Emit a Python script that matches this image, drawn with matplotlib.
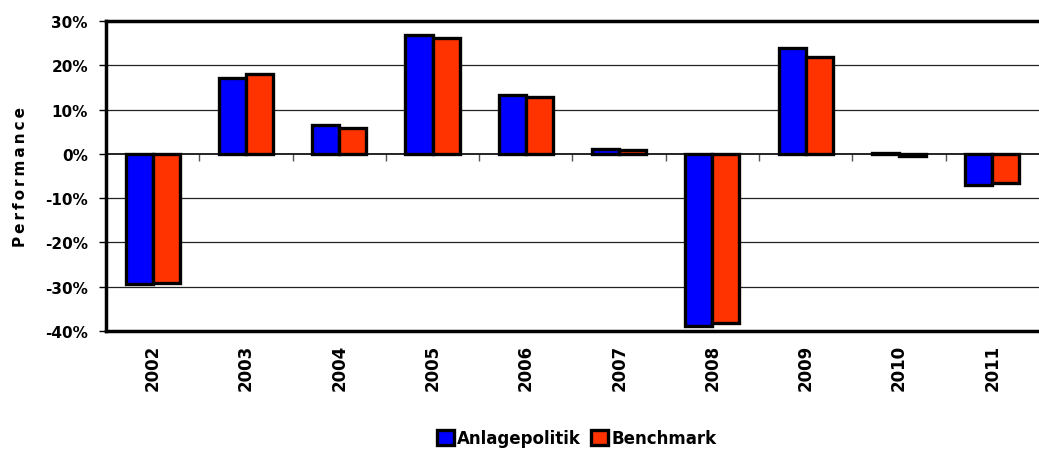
import matplotlib
matplotlib.use('Agg')
from matplotlib import pyplot as plt
from matplotlib.ticker import FuncFormatter
import numpy as np

# Jahresperformance
years = ['2002', '2003', '2004', '2005', '2006', '2007', '2008', '2009', '2010', '2011']
anlagepolitik = [-29.5, 17.2, 6.5, 26.9, 13.3, 1.1, -38.8, 23.8, 0.1, -7.1]
benchmark = [-29.1, 18.0, 5.9, 26.2, 12.8, 0.8, -38.2, 21.9, -0.4, -6.6]

plt.rcParams['font.family'] = ['DejaVu Sans']
plt.rcParams['font.weight'] = 'bold'

fig = plt.figure(figsize=(10.39, 4.52), dpi=100)
ax = fig.add_axes([0.102, 0.2655, 0.898, 0.6858])

x = np.arange(len(years))
w = 0.29
ax.bar(x - w / 2, anlagepolitik, w, color='#0000FF', edgecolor='black', linewidth=2.4,
       label='Anlagepolitik', zorder=3)
ax.bar(x + w / 2, benchmark, w, color='#FF3300', edgecolor='black', linewidth=2.4,
       label='Benchmark', zorder=3)

ymin, ymax = -40, 30
ax.set_ylim(ymin, ymax)
ax.set_xlim(-0.5, len(years) - 0.5)
ax.set_yticks(range(-40, 31, 10))
ax.yaxis.set_major_formatter(FuncFormatter(lambda v, p: f'{int(v)}%'))
ax.tick_params(axis='y', labelsize=11, length=5, width=1, pad=8)

# Gitterlinien
for v in [-30, -20, -10, 10, 20]:
    ax.axhline(v, color='#222222', linewidth=0.9, zorder=1)
ax.axhline(0, color='black', linewidth=1.2, zorder=2)

ax.set_xticks(x)
ax.set_xticklabels(years, rotation=90, fontsize=12)
ax.tick_params(axis='x', length=0, pad=9)

# Ticks an der Nulllinie
sec = ax.secondary_xaxis((0 - ymin) / (ymax - ymin))
sec.set_xticks(np.arange(0.5, len(years) - 1, 1.0))
sec.set_xticklabels([])
sec.tick_params(axis='x', direction='in', length=5, width=1, color='#555555')
for s in sec.spines.values():
    s.set_visible(False)

for s in ['left', 'bottom', 'top']:
    ax.spines[s].set_linewidth(2.5)
ax.spines['right'].set_visible(False)

ax.set_ylabel('\u2009'.join('Performance'), fontsize=11, fontweight='bold', labelpad=12)

fig.legend(loc='lower center', bbox_to_anchor=(0.555, -0.025), ncol=2, frameon=False,
           fontsize=12, handlelength=1.0, handleheight=1.0, handletextpad=0.2,
           columnspacing=0.6)

fig.savefig('out.png', dpi=100)
